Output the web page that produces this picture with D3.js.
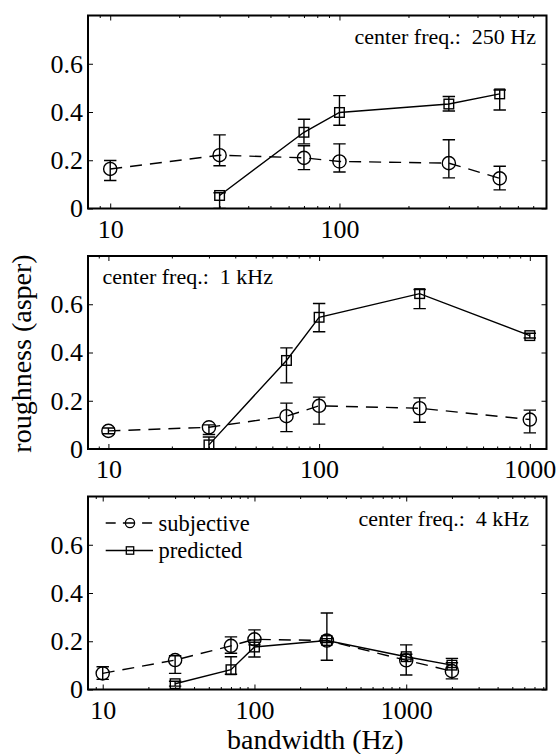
<!DOCTYPE html>
<html>
<head>
<meta charset="utf-8">
<script src="https://cdn.jsdelivr.net/npm/d3@7"></script>
<style>
  body { margin: 0; background: #fff; }
  svg { display: block; }
  svg text { font-family: "Liberation Serif", "DejaVu Serif", "Noto Serif", serif !important; fill: #000; }
</style>
</head>
<body>
<svg id="chart" width="558" height="754"></svg>
<script>
// ---- data: roughness (asper) vs. noise bandwidth (Hz), with error-bar bounds ----

// centre frequency 250 Hz
const subjBw250 = [10, 30, 70, 100, 300, 500];
const subj250   = [0.164, 0.221, 0.210, 0.195, 0.188, 0.125];
const subjLo250 = [0.116, 0.177, 0.161, 0.151, 0.127, 0.077];
const subjHi250 = [0.199, 0.305, 0.260, 0.268, 0.285, 0.175];
const predBw250 = [30, 70, 100, 300, 500];
const pred250   = [0.054, 0.316, 0.398, 0.433, 0.475];
const predLo250 = [0.000, 0.268, 0.345, 0.404, 0.408];
const predHi250 = [0.065, 0.370, 0.468, 0.464, 0.491];

// centre frequency 1 kHz
const subjBw1k = [10, 30, 70, 100, 300, 1000];
const subj1k   = [0.075, 0.090, 0.136, 0.179, 0.169, 0.122];
const subjLo1k = [0.063, 0.060, 0.072, 0.103, 0.111, 0.067];
const subjHi1k = [0.087, 0.100, 0.190, 0.215, 0.212, 0.161];
const predBw1k = [30, 70, 100, 300, 1000];
const pred1k   = [0.017, 0.367, 0.546, 0.644, 0.470];
const predLo1k = [0.000, 0.274, 0.486, 0.582, 0.460];
const predHi1k = [0.050, 0.419, 0.603, 0.661, 0.480];

// centre frequency 4 kHz
const subjBw4k = [10, 30, 70, 100, 300, 1000, 2000];
const subj4k   = [0.067, 0.122, 0.181, 0.208, 0.203, 0.121, 0.076];
const subjLo4k = [0.042, 0.067, 0.150, 0.185, 0.121, 0.060, 0.044];
const subjHi4k = [0.094, 0.140, 0.218, 0.247, 0.317, 0.185, 0.129];
const predBw4k = [30, 70, 100, 300, 1000, 2000];
const pred4k   = [0.024, 0.082, 0.176, 0.203, 0.136, 0.101];
const predLo4k = [0.014, 0.063, 0.135, 0.195, 0.126, 0.091];
const predHi4k = [0.034, 0.136, 0.205, 0.211, 0.146, 0.111];

// axis ticks and labels
const yTicks = [0, 0.2, 0.4, 0.6];
const yTickLabels = ["0", "0.2", "0.4", "0.6"];
const xMajor = [10, 100, 1000];
const xMajorLabels = ["10", "100", "1000"];
const xLimits = [[8, 800], [8, 1200], [8, 8400]];
const centerLabels = ["center freq.:\u00a0 250 Hz", "center freq.:\u00a0 1 kHz", "center freq.:\u00a0 4 kHz"];
const legendLabels = ["subjective", "predicted"];
const yAxisTitle = "roughness (asper)";
const xAxisTitle = "bandwidth (Hz)";

// ---- layout ----
const plotLeft = 88, plotRight = 546.5;
const panelTops = [15.5, 256, 496.5];
const panelH = 193;
const tickFont = 26, labelFont = 28, noteFont = 22, legendFont = 22.5;

const svg = d3.select("#chart");

const panels = [
  { subj: [subjBw250, subj250, subjLo250, subjHi250], pred: [predBw250, pred250, predLo250, predHi250],
    note: centerLabels[0], noteAnchor: "end", noteX: 536, noteDy: 28, legend: false },
  { subj: [subjBw1k, subj1k, subjLo1k, subjHi1k], pred: [predBw1k, pred1k, predLo1k, predHi1k],
    note: centerLabels[1], noteAnchor: "start", noteX: 102.5, noteDy: 28, legend: false },
  { subj: [subjBw4k, subj4k, subjLo4k, subjHi4k], pred: [predBw4k, pred4k, predLo4k, predHi4k],
    note: centerLabels[2], noteAnchor: "end", noteX: 529, noteDy: 29.5, legend: true }
];

function minorTicks(domain) {
  const out = [];
  for (let p = 0; p <= 4; p++) {
    for (let m = 2; m <= 9; m++) {
      const v = m * Math.pow(10, p);
      if (v > domain[0] && v < domain[1]) out.push(v);
    }
  }
  return out;
}

function series(g, x, y, cols, dashed, marker) {
  const [bw, val, lo, hi] = cols;
  const pts = bw.map((b, i) => ({ b, v: val[i], lo: lo[i], hi: hi[i] }));

  g.append("path")
    .datum(pts)
    .attr("fill", "none")
    .attr("stroke", "#000")
    .attr("stroke-width", 1.4)
    .attr("stroke-dasharray", dashed ? "12,8" : null)
    .attr("d", d3.line().x(d => x(d.b)).y(d => y(d.v)));

  const eb = g.append("g").attr("stroke", "#000").attr("stroke-width", 1.4);
  const cap = 6.2;
  pts.forEach(d => {
    const cx = x(d.b);
    eb.append("line").attr("x1", cx).attr("x2", cx).attr("y1", y(d.lo)).attr("y2", y(d.hi));
    eb.append("line").attr("x1", cx - cap).attr("x2", cx + cap).attr("y1", y(d.lo)).attr("y2", y(d.lo));
    eb.append("line").attr("x1", cx - cap).attr("x2", cx + cap).attr("y1", y(d.hi)).attr("y2", y(d.hi));
  });

  const mk = g.append("g").attr("fill", "none").attr("stroke", "#000").attr("stroke-width", 1.4);
  if (marker === "circle") {
    mk.selectAll("circle").data(pts).join("circle")
      .attr("cx", d => x(d.b)).attr("cy", d => y(d.v)).attr("r", 6.6);
  } else {
    const s = 9.6;
    mk.selectAll("rect").data(pts).join("rect")
      .attr("x", d => x(d.b) - s / 2).attr("y", d => y(d.v) - s / 2)
      .attr("width", s).attr("height", s);
  }
}

panels.forEach((p, i) => {
  const top = panelTops[i], bottom = top + panelH;
  const dom = xLimits[i];
  const x = d3.scaleLog().domain(dom).range([plotLeft, plotRight]);
  const y = d3.scaleLinear().domain([0, 0.8]).range([bottom, top]);
  const g = svg.append("g");

  const majors = xMajor.filter(v => v >= dom[0] && v <= dom[1]);
  const minors = minorTicks(dom).filter(v => !majors.includes(v));

  // bottom axis: major ticks with labels, minor ticks without
  const bAxis = g.append("g").attr("transform", `translate(0,${bottom})`)
    .call(d3.axisBottom(x).tickValues(majors)
      .tickFormat(v => xMajorLabels[xMajor.indexOf(v)])
      .tickSize(-5).tickPadding(11));
  bAxis.selectAll("text").attr("font-size", tickFont);
  g.append("g").attr("transform", `translate(0,${bottom})`)
    .call(d3.axisBottom(x).tickValues(minors).tickFormat("").tickSize(-2.5));
  // top axis ticks
  g.append("g").attr("transform", `translate(0,${top})`)
    .call(d3.axisTop(x).tickValues(majors).tickFormat("").tickSize(-5));
  g.append("g").attr("transform", `translate(0,${top})`)
    .call(d3.axisTop(x).tickValues(minors).tickFormat("").tickSize(-2.5));
  // left / right y axes
  const lAxis = g.append("g").attr("transform", `translate(${plotLeft},0)`)
    .call(d3.axisLeft(y).tickValues(yTicks)
      .tickFormat(v => yTickLabels[yTicks.indexOf(v)])
      .tickSize(-5).tickPadding(5));
  lAxis.selectAll("text").attr("font-size", tickFont);
  g.append("g").attr("transform", `translate(${plotRight},0)`)
    .call(d3.axisRight(y).tickValues(yTicks).tickFormat("").tickSize(-5));

  g.selectAll(".domain").remove();
  g.selectAll(".tick line").attr("stroke", "#000").attr("stroke-width", 1);

  // data
  const clipId = `clip${i}`;
  g.append("clipPath").attr("id", clipId)
    .append("rect").attr("x", plotLeft).attr("y", top).attr("width", plotRight - plotLeft).attr("height", panelH);
  const dg = g.append("g").attr("clip-path", `url(#${clipId})`);
  series(dg, x, y, p.subj, true, "circle");
  series(dg, x, y, p.pred, false, "square");

  // frame
  g.append("rect")
    .attr("x", plotLeft).attr("y", top)
    .attr("width", plotRight - plotLeft).attr("height", panelH)
    .attr("fill", "none").attr("stroke", "#000").attr("stroke-width", 2);

  // centre-frequency note
  g.append("text")
    .attr("x", p.noteX).attr("y", top + p.noteDy)
    .attr("text-anchor", p.noteAnchor)
    .attr("font-size", noteFont)
    .text(p.note);

  // legend (no frame)
  if (p.legend) {
    const rows = [top + 26.5, top + 54];
    const lx0 = 105.7, lx1 = 153, lm = 130, tx = 158.5;
    const lg = g.append("g").attr("stroke", "#000").attr("fill", "none").attr("stroke-width", 1.3);
    lg.append("line").attr("x1", lx0).attr("x2", lx1).attr("y1", rows[0]).attr("y2", rows[0])
      .attr("stroke-dasharray", "10,7.2,12,7.2,10");
    lg.append("circle").attr("cx", lm).attr("cy", rows[0]).attr("r", 4.6);
    lg.append("line").attr("x1", lx0).attr("x2", lx1).attr("y1", rows[1]).attr("y2", rows[1]);
    lg.append("rect").attr("x", lm - 3.7).attr("y", rows[1] - 3.7).attr("width", 7.4).attr("height", 7.4);
    legendLabels.forEach((t, k) => {
      g.append("text").attr("x", tx).attr("y", rows[k] + 7.5)
        .attr("font-size", legendFont).text(t);
    });
  }
});

// axis titles
svg.append("text")
  .attr("transform", `translate(31,${panelTops[1] + panelH / 2 + 1}) rotate(-90)`)
  .attr("text-anchor", "middle")
  .attr("font-size", labelFont)
  .text(yAxisTitle);

svg.append("text")
  .attr("x", (plotLeft + plotRight) / 2 - 2)
  .attr("y", 748.5)
  .attr("text-anchor", "middle")
  .attr("font-size", labelFont)
  .text(xAxisTitle);
</script>
</body>
</html>
